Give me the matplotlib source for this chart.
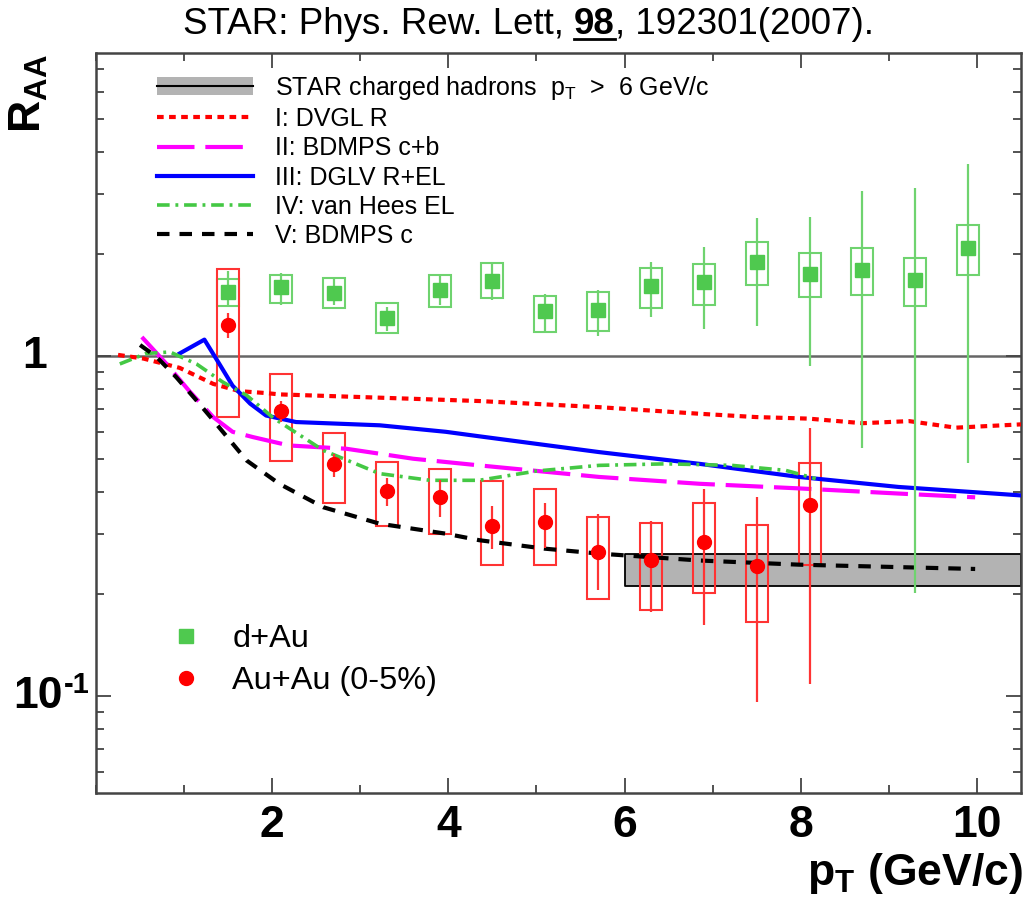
import matplotlib
matplotlib.use("Agg")
import matplotlib.pyplot as plt
from matplotlib import font_manager
from matplotlib.lines import Line2D
from matplotlib.patches import Patch
from matplotlib.ticker import LogLocator, MultipleLocator, NullFormatter
from matplotlib.transforms import offset_copy

# d+Au points
pt_dau = [1.5, 2.1, 2.7, 3.3, 3.9, 4.5, 5.1, 5.7, 6.3, 6.9, 7.5, 8.1, 8.7, 9.3, 9.9]
raa_dau = [1.55, 1.60, 1.54, 1.30, 1.57, 1.67, 1.36, 1.37, 1.61, 1.65, 1.89, 1.75, 1.80, 1.68, 2.09]
dau_stat_lo = [1.41, 1.42, 1.42, 1.19, 1.42, 1.46, 1.19, 1.15, 1.305, 1.20, 1.23, 0.935, 0.537, 0.201, 0.486]
dau_stat_hi = [1.78, 1.76, 1.71, 1.40, 1.74, 1.89, 1.53, 1.57, 1.90, 2.10, 2.55, 2.57, 3.06, 3.13, 3.67]
dau_sys_lo = [1.41, 1.44, 1.39, 1.17, 1.40, 1.48, 1.18, 1.19, 1.39, 1.42, 1.62, 1.49, 1.52, 1.41, 1.74]
dau_sys_hi = [1.69, 1.74, 1.70, 1.44, 1.74, 1.88, 1.51, 1.55, 1.82, 1.87, 2.17, 2.02, 2.09, 1.95, 2.43]

# Au+Au (0-5%) points
pt_auau = [1.5, 2.1, 2.7, 3.3, 3.9, 4.5, 5.1, 5.7, 6.3, 6.9, 7.5, 8.1]
raa_auau = [1.24, 0.69, 0.481, 0.403, 0.386, 0.316, 0.325, 0.265, 0.252, 0.284, 0.241, 0.365]
auau_stat_lo = [1.135, 0.641, 0.442, 0.364, 0.337, 0.272, 0.274, 0.205, 0.177, 0.162, 0.096, 0.109]
auau_stat_hi = [1.34, 0.739, 0.518, 0.439, 0.432, 0.364, 0.37, 0.345, 0.329, 0.406, 0.386, 0.617]
auau_sys_lo = [0.663, 0.492, 0.371, 0.316, 0.301, 0.243, 0.243, 0.194, 0.180, 0.201, 0.165, 0.243]
auau_sys_hi = [1.81, 0.885, 0.595, 0.489, 0.467, 0.429, 0.406, 0.336, 0.323, 0.371, 0.320, 0.487]

# charged hadron band
band_pt = [6.0, 10.5]
band_lo = [0.211, 0.211]
band_hi = [0.262, 0.262]

# model curves
pt_I = [0.25, 0.54, 0.95, 1.33, 1.63, 1.93, 2.08, 3.22, 4.35, 5.71, 6.85, 7.49, 8.09, 8.7, 9.23, 9.76, 10.5]
raa_I = [1.01, 0.985, 0.925, 0.83, 0.79, 0.78, 0.773, 0.756, 0.739, 0.709, 0.678, 0.663, 0.656, 0.636, 0.645, 0.617, 0.631]
pt_II = [0.52, 0.80, 1.06, 1.33, 1.55, 1.78, 2.19, 2.84, 3.6, 4.35, 5.71, 6.85, 7.98, 9.11, 9.98]
raa_II = [1.14, 0.95, 0.79, 0.663, 0.60, 0.579, 0.547, 0.535, 0.50, 0.478, 0.442, 0.422, 0.409, 0.395, 0.385]
pt_III = [0.95, 1.23, 1.40, 1.55, 1.75, 1.93, 2.27, 3.22, 3.97, 4.35, 5.71, 6.85, 7.98, 9.11, 10.5]
raa_III = [1.02, 1.12, 0.95, 0.82, 0.726, 0.67, 0.641, 0.627, 0.60, 0.582, 0.523, 0.483, 0.442, 0.413, 0.390]
pt_IV = [0.27, 0.57, 0.84, 1.14, 1.44, 1.71, 2.01, 2.58, 3.22, 3.79, 4.35, 5.0, 5.71, 6.47, 7.22, 7.83, 8.17]
raa_IV = [0.95, 1.02, 1.03, 0.95, 0.84, 0.768, 0.66, 0.529, 0.452, 0.432, 0.432, 0.46, 0.478, 0.483, 0.478, 0.462, 0.437]
pt_V = [0.5, 0.69, 0.91, 1.14, 1.33, 1.71, 2.08, 2.58, 3.22, 3.97, 4.35, 5.09, 5.71, 6.85, 7.98, 9.11, 9.98]
raa_V = [1.08, 0.995, 0.869, 0.742, 0.649, 0.494, 0.422, 0.36, 0.322, 0.301, 0.288, 0.272, 0.263, 0.251, 0.244, 0.240, 0.237]

names = {f.name for f in font_manager.fontManager.ttflist}
narrow = "Liberation Sans Narrow" if "Liberation Sans Narrow" in names else "Liberation Sans"

plt.rcParams["font.family"] = ["Liberation Sans", "DejaVu Sans"]
plt.rcParams["mathtext.fontset"] = "custom"
plt.rcParams["mathtext.rm"] = "Liberation Sans"
plt.rcParams["mathtext.it"] = "Liberation Sans:italic"
plt.rcParams["mathtext.bf"] = f"{narrow}:bold"

GREEN = "#4fc94f"
RED = "#ff0000"
FRAME = "#444444"
bold = dict(family=narrow, fontweight="bold")

fig = plt.figure(figsize=(10.26, 9.05), dpi=100)
ax = fig.add_axes([0.0936, 0.1238, 0.9015, 0.8176])
ax.set_yscale("log")
ax.set_xlim(0, 10.5)
ax.set_ylim(0.052, 7.8)

ax.axhline(1, color="#666666", lw=1.8, zorder=1)

# band
ax.fill_between(band_pt, band_lo, band_hi, facecolor="#b3b3b3", edgecolor="black", lw=1.3, zorder=2)

# curves
lI, = ax.plot(pt_I, raa_I, color=RED, lw=3, dashes=(1.6, 1.3), zorder=4)
lII, = ax.plot(pt_II, raa_II, color="#ff00ff", lw=3, dashes=(9, 2.6), zorder=4)
lIII, = ax.plot(pt_III, raa_III, color="#0000ff", lw=3, zorder=4)
lIV, = ax.plot(pt_IV, raa_IV, color="#44c844", lw=2.6, dashes=(3.5, 1.6, 0.8, 1.6), zorder=4)
lV, = ax.plot(pt_V, raa_V, color="black", lw=3, dashes=(3, 2.4), zorder=4)

# systematic boxes
dau_h = [h - l for h, l in zip(dau_sys_hi, dau_sys_lo)]
auau_h = [h - l for h, l in zip(auau_sys_hi, auau_sys_lo)]
ax.bar(pt_dau, dau_h, bottom=dau_sys_lo, width=0.25, fill=False, edgecolor="#6fd36f", lw=1.5, zorder=3)
ax.bar(pt_auau, auau_h, bottom=auau_sys_lo, width=0.25, fill=False, edgecolor="#ff3333", lw=1.5, zorder=3)

# stat bars and markers
ax.vlines(pt_dau, dau_stat_lo, dau_stat_hi, color="#6fd36f", lw=1.6, zorder=5)
ax.vlines(pt_auau, auau_stat_lo, auau_stat_hi, color="#ff3333", lw=1.6, zorder=5)
pd, = ax.plot(pt_dau, raa_dau, "s", color=GREEN, ms=9.5, mec=GREEN, zorder=6)
pa, = ax.plot(pt_auau, raa_auau, "o", color=RED, ms=10, mec=RED, zorder=6)

# axes styling
for s in ax.spines.values():
    s.set_color(FRAME)
    s.set_linewidth(1.8)
ax.xaxis.set_minor_locator(MultipleLocator(1))
ax.set_xticks([2, 4, 6, 8, 10])
ax.yaxis.set_minor_locator(LogLocator(base=10, subs=range(2, 10)))
ax.yaxis.set_minor_formatter(NullFormatter())
ax.set_yticks([0.1, 1], ["", ""])
ax.tick_params(which="both", direction="in", top=True, right=True, color=FRAME, width=1.3)
ax.tick_params(which="major", length=11)
ax.tick_params(which="minor", length=6)
ax.tick_params(axis="x", pad=9)
for lab in ax.get_xticklabels():
    lab.set_family(narrow)
    lab.set_fontweight("bold")
    lab.set_fontsize(32)

# y tick labels placed by hand (ROOT style)
ty = ax.get_yaxis_transform()
ax.text(-0.066, 1, "1", transform=ty, ha="center", va="center", fontsize=32, **bold)
ax.text(-0.036, 0.1, "10", transform=ty, ha="right", va="center", fontsize=32, **bold)
ax.text(-0.036, 0.1, "-1", transform=offset_copy(ty, fig, x=1, y=8, units="points"),
        ha="left", va="center", fontsize=21, **bold)

fig.text(0.997, 0.022, r"$\mathbf{p_{T}}$ (GeV/c)", fontsize=32, ha="right", va="baseline", **bold)
fig.text(0.028, 0.94, r"$\mathbf{R_{AA}}$", fontsize=32, rotation=90, ha="center", va="top", **bold)

# legends
band_handle = (Patch(facecolor="#b3b3b3", edgecolor="none"), Line2D([], [], color="black", lw=1.5))
leg1 = ax.legend(
    [band_handle, lI, lII, lIII, lIV, lV],
    [r"STAR charged hadrons  p$_\mathrm{T}$  >  6 GeV/c", "I: DVGL R", "II: BDMPS c+b",
     "III: DGLV R+EL", "IV: van Hees EL", "V: BDMPS c"],
    loc="upper left", bbox_to_anchor=(0.066, 0.972), frameon=False, fontsize=18,
    handlelength=3.84, handletextpad=0.88, labelspacing=0.21, borderpad=0, borderaxespad=0,
)
ax.add_artist(leg1)
ax.legend([pd, pa], ["d+Au", "Au+Au (0-5%)"], loc="upper left", bbox_to_anchor=(0.08, 0.228),
          frameon=False, fontsize=23.4, handlelength=1.0, handletextpad=0.92, labelspacing=0.37,
          borderpad=0, borderaxespad=0, numpoints=1)

# title with bold underlined volume number
W, H = fig.get_size_inches() * fig.dpi
t1 = fig.text(183 / W, 1 - 34 / H, "STAR: Phys. Rew. Lett,", fontsize=26.5, va="baseline")
t2 = fig.text(0, 1 - 34 / H, "98", fontsize=26.5, fontweight="bold", va="baseline")
t3 = fig.text(0, 1 - 34 / H, ", 192301(2007).", fontsize=26.5, va="baseline")
fig.canvas.draw()
r = fig.canvas.get_renderer()
b1 = t1.get_window_extent(r)
t2.set_x((b1.x1 + 10) / W)
b2 = t2.get_window_extent(r)
t3.set_x(b2.x1 / W)
uy = (H - 34 - 5) / H
fig.add_artist(Line2D([b2.x0 / W, b2.x1 / W], [uy, uy], color="black", lw=2))

fig.savefig("out.png", dpi=100)
